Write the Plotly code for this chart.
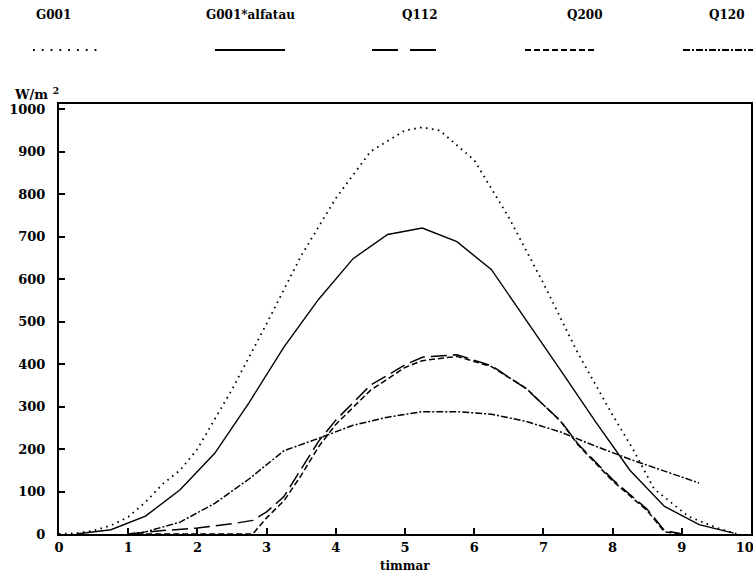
import plotly.graph_objects as go

# ---- data ----
series_names = ["G001", "G001*alfatau", "Q112", "Q200", "Q120"]

g001_x = [0.0, 0.25, 0.5, 0.75, 1.0, 1.25, 1.5, 1.75, 2.0, 2.5, 3.0, 3.5, 4.0, 4.5, 5.0, 5.25,
          5.5, 6.0, 6.5, 7.0, 7.5, 8.0, 8.3, 8.6, 9.1, 9.5, 9.8]
g001_y = [0, 2, 8, 20, 40, 75, 118, 150, 200, 340, 495, 655, 790, 900, 950, 957,
          950, 880, 745, 590, 425, 280, 198, 106, 41, 15, 0]

alfa_x = [0.25, 0.75, 1.25, 1.75, 2.25, 2.75, 3.25, 3.75, 4.25, 4.75, 5.25, 5.75, 6.25,
          6.75, 7.25, 7.75, 8.25, 8.75, 9.25, 9.75]
alfa_y = [0, 10, 42, 104, 190, 310, 440, 552, 648, 705, 720, 688, 622,
          505, 385, 265, 150, 65, 22, 2]

q112_x = [1.0, 1.5, 2.0, 2.5, 2.8, 3.0, 3.25, 3.5, 3.75, 4.0, 4.5, 5.0, 5.25, 5.75, 6.25,
          6.75, 7.25, 7.5, 8.0, 8.5, 8.75, 9.0]
q112_y = [0, 8, 14, 24, 32, 52, 88, 152, 218, 268, 350, 398, 416, 422, 396,
          342, 266, 212, 128, 58, 8, 0]

q200_x = [1.0, 2.8, 3.0, 3.25, 3.5, 3.75, 4.0, 4.5, 5.0, 5.25, 5.75, 6.25, 6.75, 7.25,
          7.5, 8.0, 8.5, 8.75, 9.0]
q200_y = [0, 0, 38, 78, 138, 205, 258, 338, 392, 408, 418, 394, 343, 265,
          210, 125, 55, 5, 0]

q120_x = [1.0, 1.25, 1.75, 2.25, 2.75, 3.25, 3.75, 4.25, 4.75, 5.25, 5.75, 6.25, 6.75,
          7.25, 7.75, 8.25, 8.75, 9.25]
q120_y = [0, 5, 28, 72, 130, 196, 225, 256, 275, 288, 288, 282, 265,
          240, 207, 176, 148, 120]

y_ticks = [0, 100, 200, 300, 400, 500, 600, 700, 800, 900, 1000]
x_ticks = [0, 1, 2, 3, 4, 5, 6, 7, 8, 9, 10]
x_title = "timmar"
y_title = "W/m <sup>2</sup>"

# ---- styles ----
FONT = "DejaVu Serif"
dashes = ["1.6px,4.4px", "solid", "16px,6px", "6px,3px", "7px,2px,2px,2px"]
legend_dashes = ["1.8px,7px", "solid", "26px,12px", "6px,3px", "7px,2px,2px,2px"]
widths = [1.8, 1.4, 1.5, 1.5, 1.5]
xs = [g001_x, alfa_x, q112_x, q200_x, q120_x]
ys = [g001_y, alfa_y, q112_y, q200_y, q120_y]

fig = go.Figure()
for name, x, y, d, w in zip(series_names, xs, ys, dashes, widths):
    fig.add_trace(go.Scatter(x=x, y=y, mode="lines", name=name,
                             line=dict(color="black", width=w, dash=d),
                             showlegend=False))

W, H = 753, 572
ml, mr, mt, mb = 59, 2, 104, 38

x_ticktext = [f"<b>{v}</b>" for v in x_ticks]
x_ticktext[-1] = f"<b>{x_ticks[-1]}</b>" + "\u00a0" * 3

fig.update_layout(
    width=W, height=H,
    margin=dict(l=ml, r=mr, t=mt, b=mb, pad=0, autoexpand=False),
    paper_bgcolor="white", plot_bgcolor="white",
    font=dict(family=FONT, size=13, color="black"),
)
fig.update_xaxes(range=[0, 10], tickvals=x_ticks, ticktext=x_ticktext, automargin=False,
                 showgrid=False, zeroline=False, showline=True, linecolor="black",
                 linewidth=2, mirror=True, ticks="inside", ticklen=6, tickwidth=1.5,
                 tickcolor="black", tickfont=dict(family=FONT, size=13),
                 ticklabelstandoff=0, ticklabeloverflow="allow")
fig.update_yaxes(range=[0, 1012], tickvals=y_ticks, ticktext=[f"<b>{v}</b>" for v in y_ticks],
                 automargin=False,
                 showgrid=False, zeroline=False, showline=True, linecolor="black",
                 linewidth=2, mirror=True, ticks="inside", ticklen=6, tickwidth=1.5,
                 tickcolor="black", tickfont=dict(family=FONT, size=13),
                 ticklabelstandoff=9)

# axis titles as annotations
fig.add_annotation(x=0.5, xref="paper", y=0, yref="paper", xanchor="center", yanchor="top",
                   yshift=-23, text=f"<b>{x_title}</b>", showarrow=False,
                   font=dict(family=FONT, size=12))
fig.add_annotation(x=0, xref="paper", y=1, yref="paper", xanchor="right", yanchor="bottom",
                   text=f"<b>{y_title}</b>", showarrow=False, xshift=2, yshift=0,
                   font=dict(family=FONT, size=13))

# legend drawn as name + line sample row
pw = W - ml - mr
ph = H - mt - mb
name_centers = [53, 250, 420, 585, 727]
sample_centers = [65, 250, 407, 561, 718]
sample_halfw = [32, 35, 35, 36, 35]
for name, cx, sx, hw, d, w in zip(series_names, name_centers, sample_centers, sample_halfw,
                                  legend_dashes, widths):
    fig.add_annotation(x=(cx - ml) / pw, xref="paper", y=(H - mb - 15) / ph, yref="paper",
                       text=f"<b>{name}</b>", showarrow=False, xanchor="center", yanchor="middle",
                       font=dict(family=FONT, size=12))
    fig.add_shape(type="line", xref="paper", yref="paper",
                  x0=(sx - hw - ml) / pw, x1=(sx + hw - ml) / pw,
                  y0=(H - mb - 50) / ph, y1=(H - mb - 50) / ph,
                  line=dict(color="black", width=w + 0.4, dash=d))

fig.write_html("out.html")
